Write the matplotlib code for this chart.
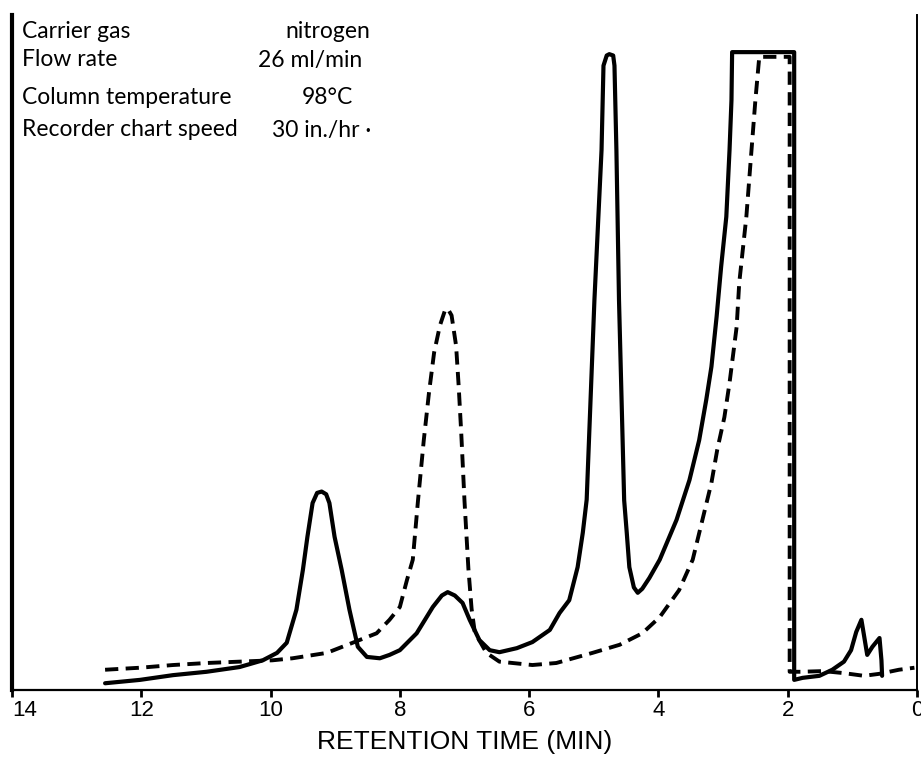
import numpy as np
import matplotlib
matplotlib.use("Agg")
import matplotlib.pyplot as plt

# retention time (min) and detector response (arbitrary units, 0-100)
solid_t = [12.56, 12.02, 11.51, 10.99, 10.48, 10.12, 9.90, 9.75, 9.60, 9.50, 9.43, 9.35, 9.28,
           9.21, 9.14, 9.09, 9.01, 8.90, 8.78, 8.65, 8.51, 8.31, 8.16, 8.00, 7.74, 7.49, 7.35,
           7.26, 7.15, 7.03, 6.92, 6.77, 6.61, 6.46, 6.19, 5.95, 5.68, 5.53, 5.38, 5.25, 5.17,
           5.11, 4.99, 4.88, 4.85, 4.80, 4.76, 4.70, 4.68, 4.65, 4.61, 4.53, 4.49, 4.45, 4.38,
           4.32, 4.25, 4.14, 3.98, 3.72, 3.52, 3.37, 3.26, 3.18, 3.10, 3.03, 2.95, 2.90, 2.87,
           2.86, 1.90, 1.90, 1.77, 1.51, 1.31, 1.13, 1.02, 0.94, 0.86, 0.82, 0.77, 0.69, 0.58,
           0.55, 0.54]
solid_v = [1.0, 1.5, 2.2, 2.7, 3.4, 4.4, 5.5, 7.0, 11.9, 17.8, 22.7, 27.7, 29.2,
           29.4, 29.0, 27.7, 22.7, 17.8, 11.9, 6.4, 4.9, 4.7, 5.2, 5.9, 8.4, 12.3, 14.0,
           14.5, 14.0, 12.9, 10.4, 7.4, 5.9, 5.6, 6.2, 7.1, 8.9, 11.4, 13.3, 18.2, 23.3,
           28.2, 57.8, 80.0, 92.5, 94.0, 94.2, 94.0, 92.5, 80.0, 57.8, 28.1, 23.3, 18.2, 15.2,
           14.4, 15.0, 16.6, 19.3, 25.2, 31.1, 37.0, 43.0, 47.9, 55.3, 62.7, 70.1, 80.0, 87.4,
           94.5, 94.5, 1.5, 1.8, 2.1, 3.0, 4.2, 5.9, 8.6, 10.4, 8.1, 5.2, 6.4, 7.7,
           4.4, 2.1]

dash_t = [12.56, 12.02, 11.51, 10.99, 10.48, 9.97, 9.66, 9.13, 8.73, 8.36, 8.16, 8.00, 7.89,
          7.80, 7.72, 7.63, 7.55, 7.47, 7.38, 7.30, 7.26, 7.20, 7.13, 7.09, 7.05, 7.00, 6.94,
          6.89, 6.84, 6.66, 6.46, 5.95, 5.58, 5.02, 4.60, 4.25, 3.98, 3.68, 3.47, 3.34,
          3.18, 3.09, 2.98, 2.90, 2.79, 2.75, 2.64, 2.56, 2.50, 2.44, 1.97, 1.97, 1.80, 1.45,
          1.13, 0.82, 0.58, 0.28, 0.04]
dash_v = [3.0, 3.3, 3.7, 4.0, 4.2, 4.4, 4.7, 5.5, 7.0, 8.4, 10.4, 12.3, 16.3,
          19.3, 28.0, 37.0, 44.0, 50.0, 54.0, 56.3, 56.5, 55.5, 51.0, 45.0, 38.0, 28.0, 18.0,
          12.0, 8.5, 5.5, 4.2, 3.7, 4.0, 5.5, 6.7, 8.4, 10.8, 14.8, 19.3, 24.4,
          30.7, 35.6, 40.4, 45.5, 53.8, 60.3, 70.1, 80.0, 87.4, 93.8, 93.8, 2.7, 2.7, 2.8,
          2.5, 2.1, 2.4, 3.0, 3.3]

x_ticks = [14, 12, 10, 8, 6, 4, 2, 0]

cond_labels = ["Carrier gas", "Flow rate", "Column temperature", "Recorder chart speed"]
cond_values = ["nitrogen", "26 ml/min", "98°C", "30 in./hr ·"]

W, H = 921, 768
fig = plt.figure(figsize=(W / 100, H / 100), dpi=100)
ax = fig.add_axes([12 / W, 1 - 690 / H, (917 - 12) / W, (690 - 15) / H])

ax.plot(solid_t, solid_v, color="black", lw=3.0, solid_joinstyle="round",
        solid_capstyle="round")
ax.plot(dash_t, dash_v, color="black", lw=2.8, dashes=(3.4, 1.9))

ax.set_xlim(14, 0)
ax.set_ylim(0, 100)
ax.set_xticks(x_ticks)
ax.set_yticks([])
ax.spines["top"].set_visible(False)
ax.spines["left"].set_linewidth(3.0)
ax.spines["bottom"].set_linewidth(1.6)
ax.spines["right"].set_linewidth(1.4)

tick_font = ["Liberation Sans", "DejaVu Sans"]
ax.tick_params(axis="x", direction="out", length=5, width=2, pad=2)
for lab in ax.get_xticklabels():
    lab.set_family(tick_font)
    lab.set_fontsize(16)
# the "14" sits just inside the left edge in the original
ax.get_xticklabels()[0].set_horizontalalignment("left")
ax.set_xlabel("RETENTION TIME (MIN)", family=tick_font, fontsize=19, labelpad=7)

rows_y = [32, 60, 97, 130]
vals_x = [285, 258, 302, 272]
for lab, val, y, vx in zip(cond_labels, cond_values, rows_y, vals_x):
    fig.text(22 / W, 1 - y / H, lab, family="Lato", fontsize=16.5, va="center", ha="left")
    fig.text(vx / W, 1 - y / H, val, family="Lato", fontsize=16.5, va="center", ha="left")

fig.savefig("out.png", dpi=100)
